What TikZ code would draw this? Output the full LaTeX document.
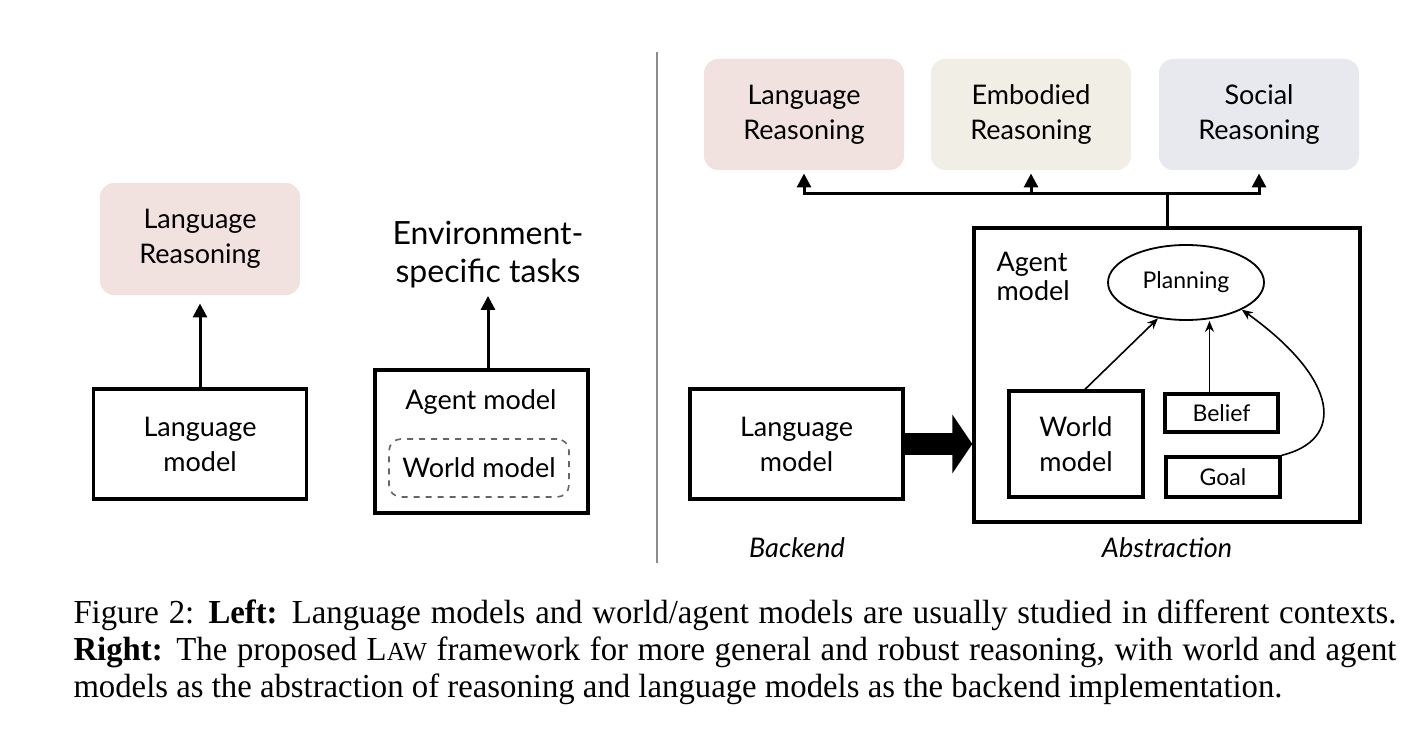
\documentclass[tikz,border=0pt]{standalone}
\usepackage{fontspec}
\setmainfont{Lato}
\newfontfamily\capfont[FakeStretch=0.975]{Liberation Serif}
\usetikzlibrary{shapes.geometric,arrows.meta}
\definecolor{langred}{HTML}{F1E2E0}
\definecolor{embbeige}{HTML}{F1EEE6}
\definecolor{socgray}{HTML}{E8E9EE}
\def\boxline{1.7pt}

\begin{document}
\begin{tikzpicture}[x=0.5pt,y=-0.5pt,line width=1.5pt]
    \tikzstyle{every node}=[font=\fontsize{13.5}{17.5}\selectfont, align=center, inner sep=0pt]
    \tikzstyle{task}=[rounded corners=7pt, minimum width=100pt, minimum height=55.5pt]
    \tikzstyle{model}=[draw, line width=\boxline]
    \tikzstyle{small}=[font=\fontsize{11.5}{14}\selectfont]
    \tikzstyle{up}=[-{Triangle[length=7pt,width=7pt]}, line width=1.5pt]
    \tikzstyle{link}=[-{Stealth[length=5.5pt,width=4.5pt]}, line width=0.8pt]

    \useasboundingbox (0,0) rectangle (1428,748);

    % Left: language model and agent model side by side
    \node[task, fill=langred, minimum height=56pt] (LRleft) at (200,239) {Language\\Reasoning};
    \node[model, minimum width=106.5pt, minimum height=55pt] (LMleft) at (200,444) {Language\\model};
    \draw[up, shorten >=3.5pt] (LMleft.north) -- (LRleft.south);

    \node[font=\fontsize{16}{19}\selectfont] (Env) at (488,255) {Environment-\\specific tasks};
    \node[model, minimum width=106.5pt, minimum height=71.5pt] (AGleft) at (481.5,441.5) {};
    \node (AGlabel) at (481,402) {Agent model};
    \node[draw=black!60, dashed, line width=0.8pt, rounded corners=6pt,
          minimum width=90pt, minimum height=29pt] (WMdash) at (479,468) {World model};
    \draw[up, shorten >=3pt] (Env.south |- AGleft.north) -- (Env.south);

    % separator
    \draw[black!45, line width=1pt] (657,52) -- (657,563);

    % Right: the three kinds of reasoning
    \node[task, fill=langred] (LR) at (804,114.5) {Language\\Reasoning};
    \node[task, fill=embbeige] (ER) at (1031,114.5) {Embodied\\Reasoning};
    \node[task, fill=socgray] (SR) at (1259,114.5) {Social\\Reasoning};

    % Backend and abstraction
    \node[model, minimum width=106.5pt, minimum height=55pt] (LM) at (796.5,444) {Language\\model};
    \node[model, minimum width=193pt, minimum height=147pt] (AG) at (1167,375) {};
    \node[anchor=north west, align=left, font=\fontsize{13.5}{14.5}\selectfont] (AGname) at (995,251) {Agent\\model};
    \node[draw, ellipse, small, line width=0.9pt, minimum width=78pt, minimum height=37.5pt] (P) at (1186,282.5) {Planning};
    \node[model, minimum width=67pt, minimum height=53pt] (W) at (1076,444) {World\\model};
    \node[model, small, minimum width=56.5pt, minimum height=19pt] (B) at (1221.5,413) {Belief};
    \node[model, small, minimum width=57pt, minimum height=20pt] (G) at (1223,477) {Goal};

    \node[font=\fontsize{13.5}{17.5}\itshape] (backend) at (797,548) {Backend};
    \node[font=\fontsize{13.5}{17.5}\itshape] (abstr) at (1167,548) {Abstraction};

    % Connect agent model to every kind of reasoning
    \draw (AG.north) -- ++(0,-33) coordinate (fork);
    \foreach \dest in {LR,ER,SR}
        \draw[up, shorten >=1pt] (fork) -| (\dest.south);

    % Inside the agent model
    \draw[link] ([xshift=4.5pt]W.north) -- (P.-128);
    \draw[link] ([xshift=-6pt]B.north) -- ([xshift=-6pt]B.north |- P.south);
    \draw[link] (G.north east) .. controls (1345,440) and (1340,380) .. (P.south east);

    % Backend to abstraction
    \draw[line width=11pt, -{Triangle[length=10pt,width=29pt]}] (LM.east) -- (LM.east -| AG.west);

    % Caption
    \node[anchor=north west, align=justify, text width=661.5pt,
          font=\capfont\fontsize{16.8}{18.5}\selectfont] (caption) at (72,598)
      {Figure 2: \textbf{Left:} Language models and world/agent models are usually studied in different contexts.\linebreak
       \textbf{Right:} The proposed L{\fontsize{13}{13}\selectfont AW} framework for more general and robust reasoning, with world and agent\linebreak
       models as the abstraction of reasoning and language models as the backend implementation.};
\end{tikzpicture}
\end{document}
